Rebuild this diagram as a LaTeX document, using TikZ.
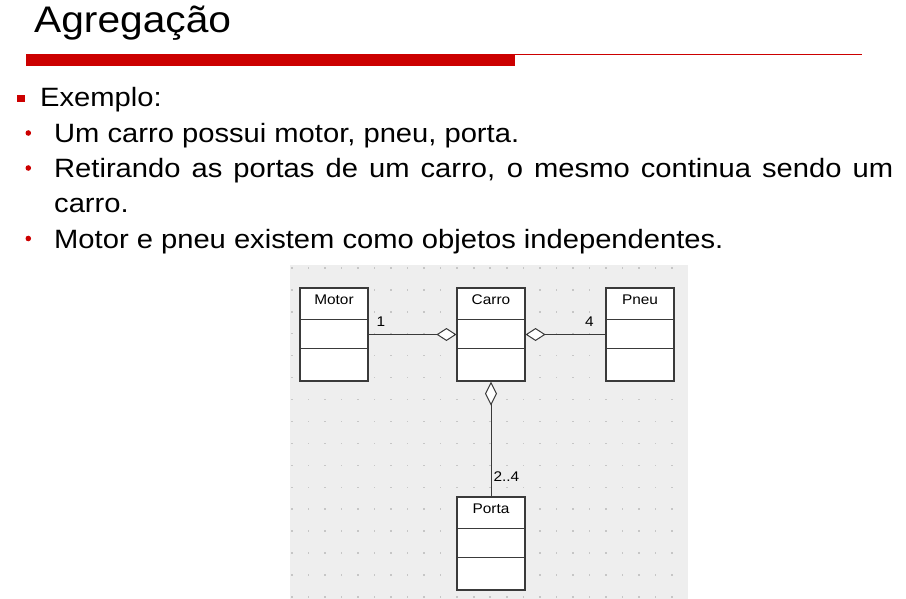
\documentclass[tikz,border=0pt]{standalone}
\usepackage{fontspec}
\setmainfont[FakeStretch=1.1]{Liberation Sans}
\usetikzlibrary{arrows.meta}
\tikzset{>=latex}
\definecolor{slidered}{HTML}{CC0000}
\definecolor{canvasgray}{HTML}{EEEEEE}
\definecolor{gridgray}{HTML}{C6C6C6}
\definecolor{linegray}{HTML}{3A3A3A}

\begin{document}
\begin{tikzpicture}[x=1pt, y=-1pt,
    txt/.style={anchor=base west, inner sep=0pt, font=\fontsize{26.5}{30}\selectfont},
    cls/.style={draw=linegray, fill=white, line width=1.1pt, minimum width=68pt, minimum height=93pt, inner sep=0pt},
    clsname/.style={anchor=base, inner sep=0pt, font=\fontsize{14}{16}\selectfont},
    mult/.style={inner sep=2pt, font=\fontsize{14}{16}\selectfont},
    agg/.style={draw=linegray, line width=1pt, -{Diamond[fill=white, length=20pt, width=13pt]}}]
    \useasboundingbox (0,0) rectangle (906,599);

    % Title and the red rule under it
    \node[txt, font=\fontsize{37}{40}\selectfont] (title) at (34,33) {Agregação};
    \fill[slidered] (26,54) rectangle (515,66);
    \draw[slidered, line width=1.3pt] (26,54.5) -- (862,54.5);

    % Bullet text
    \fill[slidered] (17,95) rectangle (24.5,102.5);
    \node[txt] (ex) at (40,107) {Exemplo:};
    \foreach \by in {142.5,177.5,248}
        \fill[slidered] (28.3,\by-9.5) circle (2.8);
    \node[txt] (b1) at (54,142.5) {Um carro possui motor, pneu, porta.};
    \node[txt] (b2) at (54,177.5) {\makebox[839pt][s]{Retirando as portas de um carro, o mesmo continua sendo um}};
    \node[txt] (b2b) at (54,213) {carro.};
    \node[txt] (b3) at (54,248) {Motor e pneu existem como objetos independentes.};

    % Diagram canvas with dot grid
    \fill[canvasgray] (290,265) rectangle (688,599);
    \foreach \i in {0,...,23}
        \foreach \j in {0,...,15}
            \fill[gridgray] (291+16.54*\i,267+21.95*\j) rectangle +(1.6,1.6);

    % Class boxes
    \foreach \nm/\txt/\cx/\cy in {motor/Motor/334/334.5, carro/Carro/491/334.5, pneu/Pneu/640/334.5, porta/Porta/491/543.5} {
        \node[cls] (\nm) at (\cx,\cy) {};
        \draw[linegray, line width=1.1pt] ([yshift=-32pt]\nm.north west) -- ([yshift=-32pt]\nm.north east);
        \draw[linegray, line width=1.1pt] ([yshift=-61pt]\nm.north west) -- ([yshift=-61pt]\nm.north east);
        \node[clsname] (\nm-name) at ([yshift=-17pt]\nm.north) {\txt};
    }

    % Aggregations
    \draw[agg] (motor) -- node[mult, pos=0.14, above, yshift=6pt] (m1) {1} (carro);
    \draw[agg] (pneu) -- node[mult, pos=0.2, above, yshift=6pt] (m2) {4} (carro);
    \draw[agg, -{Diamond[fill=white, length=24pt, width=12pt]}] (porta) -- node[mult, pos=0.17, right] (m3) {2..4} (carro);
\end{tikzpicture}
\end{document}
